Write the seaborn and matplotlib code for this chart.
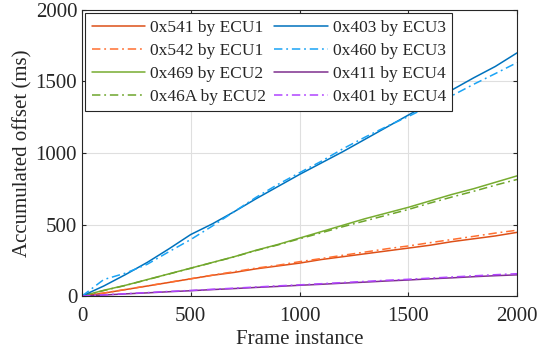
import numpy as np
import pandas as pd
import matplotlib
matplotlib.use("Agg")
import matplotlib.pyplot as plt
import seaborn as sns

frames = [0, 100, 200, 300, 400, 500, 600, 700, 800, 900, 1000,
          1100, 1200, 1300, 1400, 1500, 1600, 1700, 1800, 1900, 2000]

# accumulated offset (ms) per CAN ID
off_541 = [0, 20, 45, 70, 95, 120, 145, 165, 190, 210, 230,
           255, 275, 295, 315, 335, 355, 380, 400, 420, 445]
off_542 = [0, 21, 46, 71, 96, 121, 146, 170, 195, 215, 240,
           262, 285, 307, 330, 350, 373, 395, 417, 440, 460]
off_469 = [0, 40, 75, 115, 155, 195, 235, 275, 320, 360, 405,
           450, 495, 540, 580, 620, 665, 710, 750, 795, 840]
off_46A = [0, 38, 74, 114, 154, 194, 234, 274, 318, 357, 400,
           442, 485, 525, 565, 605, 650, 692, 732, 775, 815]
off_403 = [0, 70, 150, 235, 330, 430, 505, 590, 680, 765, 850,
           930, 1010, 1095, 1180, 1265, 1350, 1440, 1525, 1605, 1700]
off_460 = [0, 115, 160, 222, 310, 395, 490, 590, 690, 780, 862,
           942, 1030, 1110, 1185, 1255, 1330, 1400, 1480, 1555, 1632]
off_411 = [0, 7, 15, 22, 30, 37, 45, 52, 60, 67, 75,
           82, 90, 97, 105, 112, 120, 127, 135, 142, 148]
off_401 = [0, 8, 16, 24, 32, 39, 47, 55, 63, 71, 78,
           86, 94, 102, 110, 117, 125, 133, 141, 149, 156]

labels = ["0x541 by ECU1", "0x542 by ECU1", "0x469 by ECU2", "0x46A by ECU2",
          "0x403 by ECU3", "0x460 by ECU3", "0x411 by ECU4", "0x401 by ECU4"]
series = [off_541, off_542, off_469, off_46A, off_403, off_460, off_411, off_401]
colors = ["#DD5018", "#FF6F30", "#77AC30", "#6EA52C",
          "#0072BD", "#1AA3F5", "#7E2F8E", "#B044FF"]
solid = [True, False, True, False, True, False, True, False]

sns.set_style("ticks")
plt.rcParams["font.family"] = ["Liberation Serif", "DejaVu Serif"]

fig = plt.figure(figsize=(5.37, 3.54), dpi=100)
ax = fig.add_axes([0.1527, 0.1638, 0.8101, 0.808])

for lab, vals, col, sol in zip(labels, series, colors, solid):
    df = pd.DataFrame({"frame": frames, "offset": vals})
    line_ax = sns.lineplot(data=df, x="frame", y="offset", ax=ax, color=col,
                           linewidth=1.1, label=lab)
    if not sol:
        line_ax.lines[-1].set_dashes([5.5, 2.5, 1.2, 2.5])

ax.set_xlim(0, 2000)
ax.set_ylim(0, 2000)
ax.set_xticks([0, 500, 1000, 1500, 2000])
ax.set_yticks([0, 500, 1000, 1500, 2000])
ax.grid(True, color="#DFDFDF", linewidth=0.8)
ax.set_axisbelow(True)
ax.tick_params(direction="in", top=True, right=True, labelsize=15,
               length=3, color="#262626", labelcolor="#262626")
ax.tick_params(axis="x", pad=8)
for sp in ax.spines.values():
    sp.set_color("#262626")
    sp.set_linewidth(0.8)
ax.set_xlabel("Frame instance", fontsize=15, color="#262626", labelpad=3)
ax.set_ylabel("Accumulated offset (ms)", fontsize=15, color="#262626", labelpad=2)

# column-wise legend order: ECU1/ECU2 left, ECU3/ECU4 right
leg = ax.legend(ncol=2, loc="upper left", fontsize=12.5, frameon=True,
                fancybox=False, edgecolor="#262626", handlelength=3.1,
                borderaxespad=0.2, columnspacing=0.5, handletextpad=0.25,
                labelspacing=0.4, borderpad=0.35)
leg.get_frame().set_linewidth(0.8)
leg.get_frame().set_alpha(1)

fig.savefig("out.png", dpi=100)
